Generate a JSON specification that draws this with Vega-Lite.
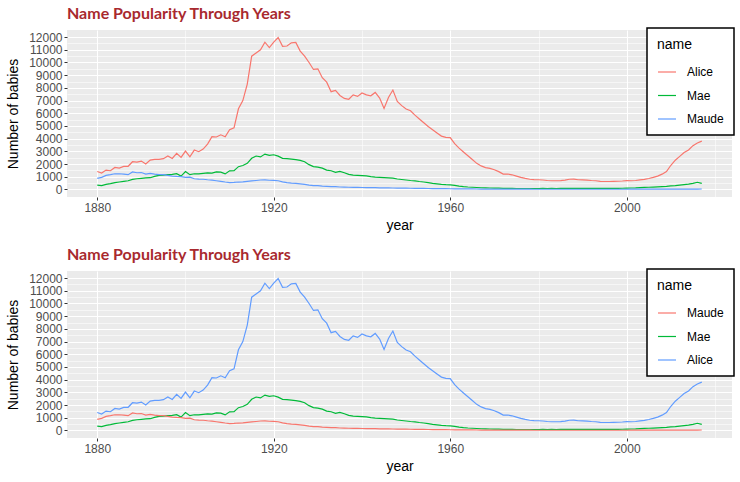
{
"$schema": "https://vega.github.io/schema/vega-lite/v6.json",
"padding": {"left": 6, "top": 6, "right": 2, "bottom": 4},
"datasets": {"babies": [
{"year":1880,"name":"Alice","n":1414},{"year":1881,"name":"Alice","n":1290},{"year":1882,"name":"Alice","n":1520},{"year":1883,"name":"Alice","n":1470},{"year":1884,"name":"Alice","n":1730},{"year":1885,"name":"Alice","n":1680},{"year":1886,"name":"Alice","n":1810},{"year":1887,"name":"Alice","n":1820},{"year":1888,"name":"Alice","n":2180},{"year":1889,"name":"Alice","n":2150},
{"year":1890,"name":"Alice","n":2230},{"year":1891,"name":"Alice","n":2000},{"year":1892,"name":"Alice","n":2310},{"year":1893,"name":"Alice","n":2360},{"year":1894,"name":"Alice","n":2370},{"year":1895,"name":"Alice","n":2420},{"year":1896,"name":"Alice","n":2630},{"year":1897,"name":"Alice","n":2440},{"year":1898,"name":"Alice","n":2840},{"year":1899,"name":"Alice","n":2520},
{"year":1900,"name":"Alice","n":3020},{"year":1901,"name":"Alice","n":2570},{"year":1902,"name":"Alice","n":3100},{"year":1903,"name":"Alice","n":2970},{"year":1904,"name":"Alice","n":3180},{"year":1905,"name":"Alice","n":3570},{"year":1906,"name":"Alice","n":4150},{"year":1907,"name":"Alice","n":4130},{"year":1908,"name":"Alice","n":4300},{"year":1909,"name":"Alice","n":4150},
{"year":1910,"name":"Alice","n":4700},{"year":1911,"name":"Alice","n":4850},{"year":1912,"name":"Alice","n":6350},{"year":1913,"name":"Alice","n":7000},{"year":1914,"name":"Alice","n":8300},{"year":1915,"name":"Alice","n":10500},{"year":1916,"name":"Alice","n":10750},{"year":1917,"name":"Alice","n":11000},{"year":1918,"name":"Alice","n":11600},{"year":1919,"name":"Alice","n":11180},
{"year":1920,"name":"Alice","n":11600},{"year":1921,"name":"Alice","n":11970},{"year":1922,"name":"Alice","n":11270},{"year":1923,"name":"Alice","n":11300},{"year":1924,"name":"Alice","n":11550},{"year":1925,"name":"Alice","n":11580},{"year":1926,"name":"Alice","n":10900},{"year":1927,"name":"Alice","n":10500},{"year":1928,"name":"Alice","n":10000},{"year":1929,"name":"Alice","n":9450},
{"year":1930,"name":"Alice","n":9500},{"year":1931,"name":"Alice","n":8800},{"year":1932,"name":"Alice","n":8450},{"year":1933,"name":"Alice","n":7700},{"year":1934,"name":"Alice","n":7800},{"year":1935,"name":"Alice","n":7400},{"year":1936,"name":"Alice","n":7170},{"year":1937,"name":"Alice","n":7100},{"year":1938,"name":"Alice","n":7450},{"year":1939,"name":"Alice","n":7330},
{"year":1940,"name":"Alice","n":7600},{"year":1941,"name":"Alice","n":7450},{"year":1942,"name":"Alice","n":7380},{"year":1943,"name":"Alice","n":7640},{"year":1944,"name":"Alice","n":7200},{"year":1945,"name":"Alice","n":6380},{"year":1946,"name":"Alice","n":7240},{"year":1947,"name":"Alice","n":7830},{"year":1948,"name":"Alice","n":6930},{"year":1949,"name":"Alice","n":6600},
{"year":1950,"name":"Alice","n":6330},{"year":1951,"name":"Alice","n":6200},{"year":1952,"name":"Alice","n":5850},{"year":1953,"name":"Alice","n":5550},{"year":1954,"name":"Alice","n":5250},{"year":1955,"name":"Alice","n":4950},{"year":1956,"name":"Alice","n":4700},{"year":1957,"name":"Alice","n":4450},{"year":1958,"name":"Alice","n":4200},{"year":1959,"name":"Alice","n":4100},
{"year":1960,"name":"Alice","n":4080},{"year":1961,"name":"Alice","n":3600},{"year":1962,"name":"Alice","n":3250},{"year":1963,"name":"Alice","n":2950},{"year":1964,"name":"Alice","n":2650},{"year":1965,"name":"Alice","n":2350},{"year":1966,"name":"Alice","n":2050},{"year":1967,"name":"Alice","n":1850},{"year":1968,"name":"Alice","n":1720},{"year":1969,"name":"Alice","n":1650},
{"year":1970,"name":"Alice","n":1550},{"year":1971,"name":"Alice","n":1400},{"year":1972,"name":"Alice","n":1210},{"year":1973,"name":"Alice","n":1210},{"year":1974,"name":"Alice","n":1150},{"year":1975,"name":"Alice","n":1050},{"year":1976,"name":"Alice","n":950},{"year":1977,"name":"Alice","n":870},{"year":1978,"name":"Alice","n":800},{"year":1979,"name":"Alice","n":770},
{"year":1980,"name":"Alice","n":760},{"year":1981,"name":"Alice","n":740},{"year":1982,"name":"Alice","n":700},{"year":1983,"name":"Alice","n":680},{"year":1984,"name":"Alice","n":680},{"year":1985,"name":"Alice","n":690},{"year":1986,"name":"Alice","n":730},{"year":1987,"name":"Alice","n":800},{"year":1988,"name":"Alice","n":810},{"year":1989,"name":"Alice","n":760},
{"year":1990,"name":"Alice","n":750},{"year":1991,"name":"Alice","n":730},{"year":1992,"name":"Alice","n":700},{"year":1993,"name":"Alice","n":680},{"year":1994,"name":"Alice","n":630},{"year":1995,"name":"Alice","n":620},{"year":1996,"name":"Alice","n":620},{"year":1997,"name":"Alice","n":630},{"year":1998,"name":"Alice","n":640},{"year":1999,"name":"Alice","n":660},
{"year":2000,"name":"Alice","n":690},{"year":2001,"name":"Alice","n":680},{"year":2002,"name":"Alice","n":700},{"year":2003,"name":"Alice","n":750},{"year":2004,"name":"Alice","n":790},{"year":2005,"name":"Alice","n":860},{"year":2006,"name":"Alice","n":950},{"year":2007,"name":"Alice","n":1050},{"year":2008,"name":"Alice","n":1200},{"year":2009,"name":"Alice","n":1400},
{"year":2010,"name":"Alice","n":1900},{"year":2011,"name":"Alice","n":2300},{"year":2012,"name":"Alice","n":2600},{"year":2013,"name":"Alice","n":2900},{"year":2014,"name":"Alice","n":3100},{"year":2015,"name":"Alice","n":3450},{"year":2016,"name":"Alice","n":3650},{"year":2017,"name":"Alice","n":3800},
{"year":1880,"name":"Mae","n":330},{"year":1881,"name":"Mae","n":300},{"year":1882,"name":"Mae","n":390},{"year":1883,"name":"Mae","n":450},{"year":1884,"name":"Mae","n":530},{"year":1885,"name":"Mae","n":580},{"year":1886,"name":"Mae","n":630},{"year":1887,"name":"Mae","n":680},{"year":1888,"name":"Mae","n":790},{"year":1889,"name":"Mae","n":840},
{"year":1890,"name":"Mae","n":870},{"year":1891,"name":"Mae","n":900},{"year":1892,"name":"Mae","n":920},{"year":1893,"name":"Mae","n":1020},{"year":1894,"name":"Mae","n":1100},{"year":1895,"name":"Mae","n":1130},{"year":1896,"name":"Mae","n":1160},{"year":1897,"name":"Mae","n":1180},{"year":1898,"name":"Mae","n":1240},{"year":1899,"name":"Mae","n":1050},
{"year":1900,"name":"Mae","n":1400},{"year":1901,"name":"Mae","n":1160},{"year":1902,"name":"Mae","n":1230},{"year":1903,"name":"Mae","n":1220},{"year":1904,"name":"Mae","n":1260},{"year":1905,"name":"Mae","n":1300},{"year":1906,"name":"Mae","n":1280},{"year":1907,"name":"Mae","n":1380},{"year":1908,"name":"Mae","n":1360},{"year":1909,"name":"Mae","n":1220},
{"year":1910,"name":"Mae","n":1460},{"year":1911,"name":"Mae","n":1480},{"year":1912,"name":"Mae","n":1790},{"year":1913,"name":"Mae","n":1880},{"year":1914,"name":"Mae","n":2050},{"year":1915,"name":"Mae","n":2450},{"year":1916,"name":"Mae","n":2630},{"year":1917,"name":"Mae","n":2560},{"year":1918,"name":"Mae","n":2780},{"year":1919,"name":"Mae","n":2680},
{"year":1920,"name":"Mae","n":2730},{"year":1921,"name":"Mae","n":2620},{"year":1922,"name":"Mae","n":2450},{"year":1923,"name":"Mae","n":2420},{"year":1924,"name":"Mae","n":2390},{"year":1925,"name":"Mae","n":2340},{"year":1926,"name":"Mae","n":2290},{"year":1927,"name":"Mae","n":2180},{"year":1928,"name":"Mae","n":1950},{"year":1929,"name":"Mae","n":1800},
{"year":1930,"name":"Mae","n":1750},{"year":1931,"name":"Mae","n":1670},{"year":1932,"name":"Mae","n":1520},{"year":1933,"name":"Mae","n":1470},{"year":1934,"name":"Mae","n":1340},{"year":1935,"name":"Mae","n":1420},{"year":1936,"name":"Mae","n":1310},{"year":1937,"name":"Mae","n":1180},{"year":1938,"name":"Mae","n":1120},{"year":1939,"name":"Mae","n":1100},
{"year":1940,"name":"Mae","n":1080},{"year":1941,"name":"Mae","n":1060},{"year":1942,"name":"Mae","n":1000},{"year":1943,"name":"Mae","n":960},{"year":1944,"name":"Mae","n":950},{"year":1945,"name":"Mae","n":930},{"year":1946,"name":"Mae","n":910},{"year":1947,"name":"Mae","n":890},{"year":1948,"name":"Mae","n":820},{"year":1949,"name":"Mae","n":780},
{"year":1950,"name":"Mae","n":740},{"year":1951,"name":"Mae","n":700},{"year":1952,"name":"Mae","n":670},{"year":1953,"name":"Mae","n":620},{"year":1954,"name":"Mae","n":580},{"year":1955,"name":"Mae","n":530},{"year":1956,"name":"Mae","n":480},{"year":1957,"name":"Mae","n":440},{"year":1958,"name":"Mae","n":400},{"year":1959,"name":"Mae","n":370},
{"year":1960,"name":"Mae","n":350},{"year":1961,"name":"Mae","n":320},{"year":1962,"name":"Mae","n":260},{"year":1963,"name":"Mae","n":220},{"year":1964,"name":"Mae","n":190},{"year":1965,"name":"Mae","n":170},{"year":1966,"name":"Mae","n":150},{"year":1967,"name":"Mae","n":130},{"year":1968,"name":"Mae","n":120},{"year":1969,"name":"Mae","n":110},
{"year":1970,"name":"Mae","n":100},{"year":1971,"name":"Mae","n":95},{"year":1972,"name":"Mae","n":85},{"year":1973,"name":"Mae","n":80},{"year":1974,"name":"Mae","n":75},{"year":1975,"name":"Mae","n":70},{"year":1976,"name":"Mae","n":70},{"year":1977,"name":"Mae","n":70},{"year":1978,"name":"Mae","n":68},{"year":1979,"name":"Mae","n":70},
{"year":1980,"name":"Mae","n":70},{"year":1981,"name":"Mae","n":72},{"year":1982,"name":"Mae","n":70},{"year":1983,"name":"Mae","n":72},{"year":1984,"name":"Mae","n":71},{"year":1985,"name":"Mae","n":73},{"year":1986,"name":"Mae","n":72},{"year":1987,"name":"Mae","n":74},{"year":1988,"name":"Mae","n":73},{"year":1989,"name":"Mae","n":75},
{"year":1990,"name":"Mae","n":74},{"year":1991,"name":"Mae","n":75},{"year":1992,"name":"Mae","n":74},{"year":1993,"name":"Mae","n":75},{"year":1994,"name":"Mae","n":74},{"year":1995,"name":"Mae","n":76},{"year":1996,"name":"Mae","n":78},{"year":1997,"name":"Mae","n":80},{"year":1998,"name":"Mae","n":85},{"year":1999,"name":"Mae","n":90},
{"year":2000,"name":"Mae","n":100},{"year":2001,"name":"Mae","n":110},{"year":2002,"name":"Mae","n":120},{"year":2003,"name":"Mae","n":140},{"year":2004,"name":"Mae","n":160},{"year":2005,"name":"Mae","n":170},{"year":2006,"name":"Mae","n":185},{"year":2007,"name":"Mae","n":200},{"year":2008,"name":"Mae","n":220},{"year":2009,"name":"Mae","n":240},
{"year":2010,"name":"Mae","n":270},{"year":2011,"name":"Mae","n":300},{"year":2012,"name":"Mae","n":340},{"year":2013,"name":"Mae","n":380},{"year":2014,"name":"Mae","n":420},{"year":2015,"name":"Mae","n":480},{"year":2016,"name":"Mae","n":560},{"year":2017,"name":"Mae","n":470},
{"year":1880,"name":"Maude","n":870},{"year":1881,"name":"Maude","n":950},{"year":1882,"name":"Maude","n":1100},{"year":1883,"name":"Maude","n":1160},{"year":1884,"name":"Maude","n":1230},{"year":1885,"name":"Maude","n":1230},{"year":1886,"name":"Maude","n":1200},{"year":1887,"name":"Maude","n":1160},{"year":1888,"name":"Maude","n":1370},{"year":1889,"name":"Maude","n":1310},
{"year":1890,"name":"Maude","n":1330},{"year":1891,"name":"Maude","n":1200},{"year":1892,"name":"Maude","n":1260},{"year":1893,"name":"Maude","n":1200},{"year":1894,"name":"Maude","n":1170},{"year":1895,"name":"Maude","n":1170},{"year":1896,"name":"Maude","n":1110},{"year":1897,"name":"Maude","n":1050},{"year":1898,"name":"Maude","n":1020},{"year":1899,"name":"Maude","n":1010},
{"year":1900,"name":"Maude","n":950},{"year":1901,"name":"Maude","n":970},{"year":1902,"name":"Maude","n":840},{"year":1903,"name":"Maude","n":810},{"year":1904,"name":"Maude","n":800},{"year":1905,"name":"Maude","n":760},{"year":1906,"name":"Maude","n":730},{"year":1907,"name":"Maude","n":680},{"year":1908,"name":"Maude","n":630},{"year":1909,"name":"Maude","n":580},
{"year":1910,"name":"Maude","n":540},{"year":1911,"name":"Maude","n":550},{"year":1912,"name":"Maude","n":580},{"year":1913,"name":"Maude","n":590},{"year":1914,"name":"Maude","n":630},{"year":1915,"name":"Maude","n":670},{"year":1916,"name":"Maude","n":700},{"year":1917,"name":"Maude","n":740},{"year":1918,"name":"Maude","n":750},{"year":1919,"name":"Maude","n":720},
{"year":1920,"name":"Maude","n":710},{"year":1921,"name":"Maude","n":680},{"year":1922,"name":"Maude","n":590},{"year":1923,"name":"Maude","n":530},{"year":1924,"name":"Maude","n":490},{"year":1925,"name":"Maude","n":480},{"year":1926,"name":"Maude","n":440},{"year":1927,"name":"Maude","n":390},{"year":1928,"name":"Maude","n":340},{"year":1929,"name":"Maude","n":300},
{"year":1930,"name":"Maude","n":290},{"year":1931,"name":"Maude","n":260},{"year":1932,"name":"Maude","n":240},{"year":1933,"name":"Maude","n":220},{"year":1934,"name":"Maude","n":210},{"year":1935,"name":"Maude","n":190},{"year":1936,"name":"Maude","n":180},{"year":1937,"name":"Maude","n":170},{"year":1938,"name":"Maude","n":165},{"year":1939,"name":"Maude","n":160},
{"year":1940,"name":"Maude","n":150},{"year":1941,"name":"Maude","n":145},{"year":1942,"name":"Maude","n":140},{"year":1943,"name":"Maude","n":135},{"year":1944,"name":"Maude","n":125},{"year":1945,"name":"Maude","n":120},{"year":1946,"name":"Maude","n":115},{"year":1947,"name":"Maude","n":110},{"year":1948,"name":"Maude","n":105},{"year":1949,"name":"Maude","n":100},
{"year":1950,"name":"Maude","n":95},{"year":1951,"name":"Maude","n":90},{"year":1952,"name":"Maude","n":85},{"year":1953,"name":"Maude","n":80},{"year":1954,"name":"Maude","n":75},{"year":1955,"name":"Maude","n":70},{"year":1956,"name":"Maude","n":65},{"year":1957,"name":"Maude","n":62},{"year":1958,"name":"Maude","n":58},{"year":1959,"name":"Maude","n":55},
{"year":1960,"name":"Maude","n":50},{"year":1961,"name":"Maude","n":47},{"year":1962,"name":"Maude","n":44},{"year":1963,"name":"Maude","n":40},{"year":1964,"name":"Maude","n":37},{"year":1965,"name":"Maude","n":34},{"year":1966,"name":"Maude","n":31},{"year":1967,"name":"Maude","n":28},{"year":1968,"name":"Maude","n":26},{"year":1969,"name":"Maude","n":24},
{"year":1970,"name":"Maude","n":22},{"year":1971,"name":"Maude","n":20},{"year":1972,"name":"Maude","n":18},{"year":1973,"name":"Maude","n":17},{"year":1974,"name":"Maude","n":16},{"year":1975,"name":"Maude","n":15},{"year":1976,"name":"Maude","n":14},{"year":1977,"name":"Maude","n":13},{"year":1978,"name":"Maude","n":13},{"year":1979,"name":"Maude","n":12},
{"year":1980,"name":"Maude","n":12},{"year":1981,"name":"Maude","n":12},{"year":1982,"name":"Maude","n":11},{"year":1983,"name":"Maude","n":11},{"year":1984,"name":"Maude","n":10},{"year":1985,"name":"Maude","n":10},{"year":1986,"name":"Maude","n":10},{"year":1987,"name":"Maude","n":11},{"year":1988,"name":"Maude","n":11},{"year":1989,"name":"Maude","n":12},
{"year":1990,"name":"Maude","n":12},{"year":1991,"name":"Maude","n":12},{"year":1992,"name":"Maude","n":11},{"year":1993,"name":"Maude","n":11},{"year":1994,"name":"Maude","n":10},{"year":1995,"name":"Maude","n":10},{"year":1996,"name":"Maude","n":10},{"year":1997,"name":"Maude","n":10},{"year":1998,"name":"Maude","n":11},{"year":1999,"name":"Maude","n":11},
{"year":2000,"name":"Maude","n":12},{"year":2001,"name":"Maude","n":13},{"year":2002,"name":"Maude","n":13},{"year":2003,"name":"Maude","n":14},{"year":2004,"name":"Maude","n":15},{"year":2005,"name":"Maude","n":15},{"year":2006,"name":"Maude","n":16},{"year":2007,"name":"Maude","n":17},{"year":2008,"name":"Maude","n":18},{"year":2009,"name":"Maude","n":19},
{"year":2010,"name":"Maude","n":20},{"year":2011,"name":"Maude","n":21},{"year":2012,"name":"Maude","n":22},{"year":2013,"name":"Maude","n":24},{"year":2014,"name":"Maude","n":25},{"year":2015,"name":"Maude","n":27},{"year":2016,"name":"Maude","n":28},{"year":2017,"name":"Maude","n":30}
]},
"config": {
  "font": "Liberation Sans",
  "view": {"fill": "#EBEBEB", "stroke": null},
  "title": {"font": "Lato", "fontSize": 16, "fontWeight": "bold", "color": "#A8292E", "anchor": "start", "frame": "group", "offset": 5},
  "axis": {"domain": false, "labelColor": "#4D4D4D", "labelFontSize": 12, "tickColor": "#333333", "tickSize": 3, "labelPadding": 2, "titleFontSize": 14, "titleFontWeight": "normal", "titleColor": "#000000", "gridColor": "#FFFFFF"},
  "legend": {"orient": "none", "legendX": 580, "legendY": -2, "strokeColor": "#000000", "strokeWidth": 1.5, "fillColor": "#FFFFFF", "padding": 10, "titleFontSize": 14, "titleFontWeight": "normal", "titleColor": "#000000", "titlePadding": 10, "labelFontSize": 12, "labelColor": "#000000", "symbolType": "stroke", "symbolSize": 324, "symbolStrokeWidth": 1.5, "rowPadding": 7.5, "labelOffset": 10},
  "concat": {"spacing": 15},
  "line": {"strokeWidth": 1.2}
},
"resolve": {"scale": {"color": "independent"}, "legend": {"color": "independent"}},
"vconcat": [
{
  "title": "Name Popularity Through Years",
  "width": 665, "height": 167,
  "data": {"name": "babies"},
  "mark": {"type": "line"},
  "encoding": {
    "x": {"field": "year", "type": "quantitative", "scale": {"domain": [1873.15, 2023.85], "nice": false, "zero": false},
      "axis": {"title": "year", "titlePadding": 5, "format": "d", "values": [1880,1900,1920,1940,1960,1980,2000,2020], "labelExpr": "(datum.value - 1880) % 40 === 0 ? datum.label : ''", "labelFlush": false,
        "gridWidth": {"condition": {"test": "(datum.value - 1880) % 40 === 0", "value": 1.1}, "value": 0.55},
        "tickOpacity": {"condition": {"test": "(datum.value - 1880) % 40 === 0", "value": 1}, "value": 0}}},
    "y": {"field": "n", "type": "quantitative", "scale": {"domain": [-600, 12560], "nice": false, "zero": false},
      "axis": {"title": "Number of babies", "titlePadding": 8, "format": "d", "values": [0,500,1000,1500,2000,2500,3000,3500,4000,4500,5000,5500,6000,6500,7000,7500,8000,8500,9000,9500,10000,10500,11000,11500,12000], "labelExpr": "datum.value % 1000 === 0 ? datum.label : ''",
        "gridWidth": {"condition": {"test": "datum.value % 1000 === 0", "value": 1.1}, "value": 0.55},
        "tickOpacity": {"condition": {"test": "datum.value % 1000 === 0", "value": 1}, "value": 0}}},
    "color": {"field": "name", "type": "nominal", "title": "name", "scale": {"domain": ["Alice", "Mae", "Maude"], "range": ["#F8766D", "#00BA38", "#619CFF"]}}
  }
},
{
  "title": "Name Popularity Through Years",
  "width": 665, "height": 167,
  "data": {"name": "babies"},
  "mark": {"type": "line"},
  "encoding": {
    "x": {"field": "year", "type": "quantitative", "scale": {"domain": [1873.15, 2023.85], "nice": false, "zero": false},
      "axis": {"title": "year", "titlePadding": 5, "format": "d", "values": [1880,1900,1920,1940,1960,1980,2000,2020], "labelExpr": "(datum.value - 1880) % 40 === 0 ? datum.label : ''", "labelFlush": false,
        "gridWidth": {"condition": {"test": "(datum.value - 1880) % 40 === 0", "value": 1.1}, "value": 0.55},
        "tickOpacity": {"condition": {"test": "(datum.value - 1880) % 40 === 0", "value": 1}, "value": 0}}},
    "y": {"field": "n", "type": "quantitative", "scale": {"domain": [-600, 12560], "nice": false, "zero": false},
      "axis": {"title": "Number of babies", "titlePadding": 8, "format": "d", "values": [0,500,1000,1500,2000,2500,3000,3500,4000,4500,5000,5500,6000,6500,7000,7500,8000,8500,9000,9500,10000,10500,11000,11500,12000], "labelExpr": "datum.value % 1000 === 0 ? datum.label : ''",
        "gridWidth": {"condition": {"test": "datum.value % 1000 === 0", "value": 1.1}, "value": 0.55},
        "tickOpacity": {"condition": {"test": "datum.value % 1000 === 0", "value": 1}, "value": 0}}},
    "color": {"field": "name", "type": "nominal", "title": "name", "scale": {"domain": ["Maude", "Mae", "Alice"], "range": ["#F8766D", "#00BA38", "#619CFF"]}}
  }
}
]
}
